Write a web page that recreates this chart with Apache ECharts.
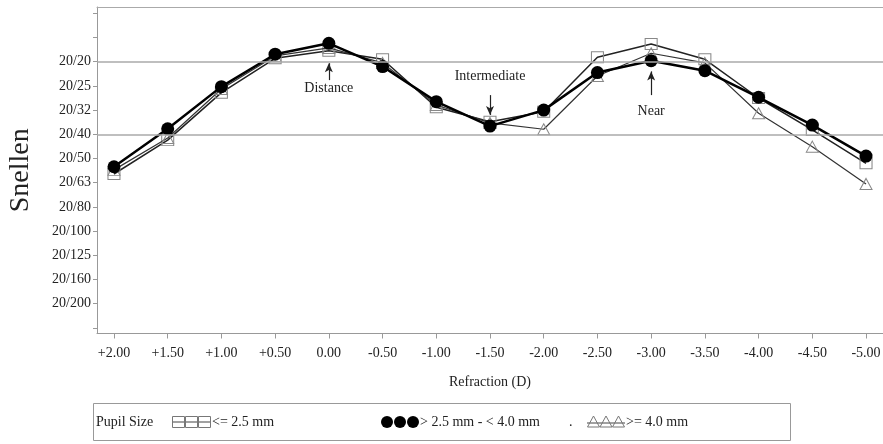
<!doctype html>
<html>
<head>
<meta charset="utf-8">
<title>Snellen vs Refraction</title>
<style>
  html, body { margin: 0; padding: 0; background: #fff; }
  #main { width: 883px; height: 444px; }
</style>
</head>
<body>
<div id="main"></div>
<script src="https://cdn.jsdelivr.net/npm/echarts@6/dist/echarts.min.js"></script>
<script>
// refraction (D), left to right
var refraction = [2.0, 1.5, 1.0, 0.5, 0.0, -0.5, -1.0, -1.5, -2.0, -2.5, -3.0, -3.5, -4.0, -4.5, -5.0];

// acuity in logMAR (0 = 20/20, 0.3 = 20/40)
var pupilSmall = [0.464, 0.324, 0.128, -0.014, -0.045, -0.010, 0.188, 0.248, 0.207, -0.018, -0.073, -0.010, 0.150, 0.282, 0.420];
var pupilMid   = [0.434, 0.277, 0.103, -0.031, -0.076, 0.020, 0.165, 0.266, 0.200, 0.045, -0.004, 0.037, 0.147, 0.262, 0.390];
var pupilLarge = [0.447, 0.315, 0.113, -0.024, -0.057, 0.005, 0.179, 0.253, 0.279, 0.059, -0.035, 0.005, 0.213, 0.351, 0.505];

var snellenLabels = ['20/20', '20/25', '20/32', '20/40', '20/50', '20/63', '20/80', '20/100', '20/125', '20/160', '20/200'];
var snellenLabelValues = [0, 0.1, 0.2, 0.3, 0.4, 0.5, 0.6, 0.7, 0.8, 0.9, 1.0];
var snellenTickValues = [-0.2, -0.1, 0, 0.1, 0.2, 0.3, 0.4, 0.5, 0.6, 0.7, 0.8, 0.9, 1.0, 1.1];
var refLines = [0, 0.3];

var seriesNames = ['<= 2.5 mm', '> 2.5 mm - < 4.0 mm', '>= 4.0 mm'];

// annotations: refraction, logMAR of text, arrow from / to
var notes = [
    { name: 'Distance', x: 0.0, text: 0.110, from: 0.076, to: 0.006 },
    { name: 'Intermediate', x: -1.5, text: 0.062, from: 0.138, to: 0.220 },
    { name: 'Near', x: -3.0, text: 0.207, from: 0.138, to: 0.040 }
];

var serif = '"Liberation Serif", "DejaVu Serif", serif';

function pairs(arr) {
    return refraction.map(function (r, i) { return [r, arr[i]]; });
}

function fmtD(v) {
    var s = Math.abs(v).toFixed(2);
    if (v > 0.001) return '+' + s;
    if (v < -0.001) return '-' + s;
    return s;
}

function legendGraphic() {
    var cy = 422;
    var g = [];
    g.push({ type: 'rect', shape: { x: 93.5, y: 403.5, width: 697, height: 37 }, style: { fill: 'none', stroke: '#999', lineWidth: 1 } });
    g.push({ type: 'text', x: 96, y: cy, style: { text: 'Pupil Size', fill: '#222', font: '14px ' + serif, verticalAlign: 'middle' } });
    // squares
    g.push({ type: 'line', shape: { x1: 172, y1: cy, x2: 211, y2: cy }, style: { stroke: '#444', lineWidth: 1.2 } });
    for (var i = 0; i < 3; i++) {
        g.push({ type: 'rect', shape: { x: 172.5 + i * 13, y: cy - 5.5, width: 12, height: 11 }, style: { fill: 'none', stroke: '#777', lineWidth: 1 } });
    }
    g.push({ type: 'text', x: 212, y: cy, style: { text: seriesNames[0], fill: '#222', font: '14px ' + serif, verticalAlign: 'middle' } });
    // circles
    for (i = 0; i < 3; i++) {
        g.push({ type: 'circle', shape: { cx: 387 + i * 13, cy: cy, r: 6 }, style: { fill: '#000' } });
    }
    g.push({ type: 'text', x: 420, y: cy, style: { text: seriesNames[1], fill: '#222', font: '14px ' + serif, verticalAlign: 'middle' } });
    g.push({ type: 'text', x: 569, y: cy, style: { text: '.', fill: '#222', font: '14px ' + serif, verticalAlign: 'middle' } });
    // triangles
    g.push({ type: 'line', shape: { x1: 587, y1: cy + 1, x2: 625, y2: cy + 1 }, style: { stroke: '#444', lineWidth: 1 } });
    for (i = 0; i < 3; i++) {
        var cx = 593.5 + i * 12.5;
        g.push({ type: 'polygon', shape: { points: [[cx - 6, cy + 5], [cx + 6, cy + 5], [cx, cy - 6]] }, style: { fill: 'none', stroke: '#777', lineWidth: 1 } });
    }
    g.push({ type: 'text', x: 626, y: cy, style: { text: seriesNames[2], fill: '#222', font: '14px ' + serif, verticalAlign: 'middle' } });
    return g;
}

var chart = echarts.init(document.getElementById('main'));

var option = {
    animation: false,
    backgroundColor: '#fff',
    grid: {
        left: 97, right: 0, top: 7, bottom: 110.5,
        containLabel: false,
        outerBoundsMode: 'none'
    },
    xAxis: [{
        type: 'value',
        min: -5.158, max: 2.158,
        inverse: true,
        name: 'Refraction (D)',
        nameLocation: 'middle',
        nameGap: 42,
        nameTextStyle: { fontFamily: serif, fontSize: 14, color: '#222' },
        axisLine: { onZero: false, lineStyle: { color: '#999', width: 1 } },
        axisTick: { show: true, length: 5, lineStyle: { color: '#999' }, customValues: refraction },
        axisLabel: { customValues: refraction, formatter: fmtD, margin: 13, fontFamily: serif, fontSize: 14, color: '#222' },
        splitLine: { show: false }
    }, {
        type: 'value',
        position: 'top',
        min: -5.158, max: 2.158,
        inverse: true,
        axisLine: { show: true, onZero: false, lineStyle: { color: '#aaa', width: 1 } },
        axisTick: { show: false },
        axisLabel: { show: false },
        splitLine: { show: false }
    }],
    yAxis: {
        type: 'value',
        min: -0.226, max: 1.123,
        inverse: true,
        name: 'Snellen',
        nameLocation: 'middle',
        nameRotate: 90,
        nameGap: 62,
        nameTextStyle: { fontFamily: serif, fontSize: 28, color: '#222' },
        axisLine: { show: true, onZero: false, lineStyle: { color: '#999', width: 1 } },
        axisTick: { show: true, length: 4, lineStyle: { color: '#999' }, customValues: snellenTickValues },
        axisLabel: {
            customValues: snellenLabelValues,
            margin: 6,
            fontFamily: serif, fontSize: 14, color: '#222',
            formatter: function (v) { return snellenLabels[Math.round(v * 10)] || ''; }
        },
        splitLine: { show: false }
    },
    graphic: legendGraphic(),
    series: [{
        name: 'ref',
        type: 'line',
        data: [],
        silent: true,
        markLine: {
            silent: true,
            symbol: 'none',
            label: { show: false },
            lineStyle: { color: '#aaa', width: 1.5, type: 'solid' },
            data: refLines.map(function (v) { return { yAxis: v }; })
        }
    }, {
        name: seriesNames[0],
        type: 'line',
        data: pairs(pupilSmall),
        symbol: 'rect',
        symbolSize: [12, 11],
        lineStyle: { color: '#222', width: 1.5 },
        itemStyle: { color: 'rgba(0,0,0,0)', borderColor: '#888', borderWidth: 1 },
        z: 2
    }, {
        name: seriesNames[2],
        type: 'line',
        data: pairs(pupilLarge),
        symbol: 'triangle',
        symbolSize: [12, 11],
        lineStyle: { color: '#333', width: 1.2 },
        itemStyle: { color: 'rgba(0,0,0,0)', borderColor: '#888', borderWidth: 1 },
        z: 3
    }, {
        name: seriesNames[1],
        type: 'line',
        data: pairs(pupilMid),
        symbol: 'circle',
        symbolSize: 13,
        lineStyle: { color: '#000', width: 2.5 },
        itemStyle: { color: '#000' },
        z: 4
    }, {
        name: 'notes',
        type: 'line',
        data: [],
        silent: true,
        z: 5,
        markLine: {
            silent: true,
            symbol: ['none', 'arrow'],
            symbolSize: [6, 9],
            label: { show: false },
            lineStyle: { color: '#222', width: 1.2, type: 'solid' },
            data: notes.map(function (n) {
                return [{ coord: [n.x, n.from] }, { coord: [n.x, n.to] }];
            })
        },
        markPoint: {
            silent: true,
            symbol: 'rect',
            symbolSize: 1,
            itemStyle: { color: 'rgba(0,0,0,0)' },
            label: { show: true, position: 'inside', formatter: '{b}', fontFamily: serif, fontSize: 14, color: '#222' },
            data: notes.map(function (n) { return { name: n.name, coord: [n.x, n.text] }; })
        }
    }]
};

chart.setOption(option);
</script>
</body>
</html>
